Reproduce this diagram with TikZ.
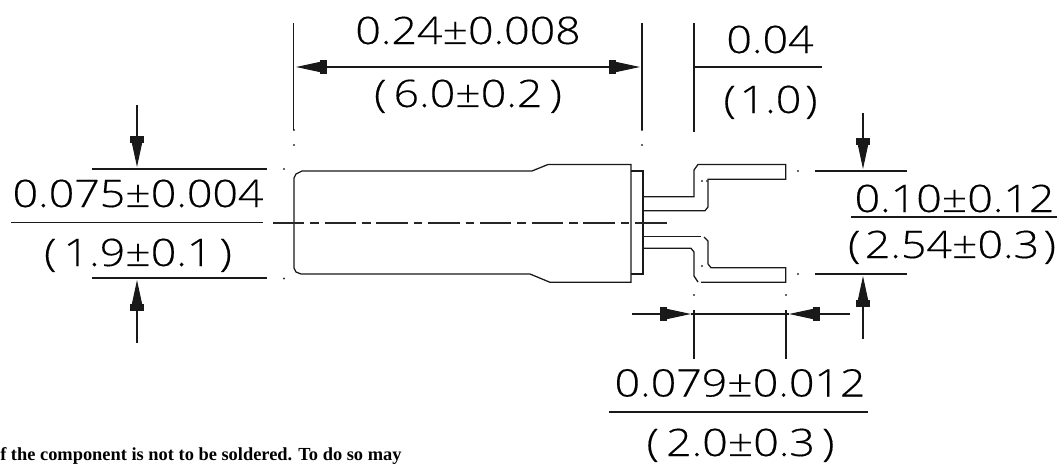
\documentclass[tikz,border=0pt]{standalone}
\usepackage{fontspec}
\setmainfont{Liberation Sans}
\newfontfamily\dimfont[FakeStretch=1.18,FakeBold=0.35]{Open Sans Light}
\newfontfamily\notefont{Liberation Serif}
\newcommand{\pk}{\kern5.5pt}
\usetikzlibrary{arrows.meta,calc}
\tikzset{
  x=0.75pt,y=-0.75pt,
  part/.style={line width=0.95pt,black!90},
  thin dim/.style={line width=0.8pt,black!90},
  dimend/.style={thin dim,-{Rectangle[length=5pt,width=10pt,sep=0pt]Triangle[length=18pt,width=7.5pt]}},
  dimstart/.style={thin dim,{Triangle[length=18pt,width=7.5pt]Rectangle[length=5pt,width=10pt,sep=0pt]}-},
  dimtext/.style={anchor=base,inner sep=0pt,font=\dimfont\fontsize{28.4pt}{28pt}\selectfont,text=black},
  centre/.style={line width=1.2pt,black!85,dash pattern=on 23.6pt off 4.4pt on 6.4pt off 4.4pt},
  speck/.style={circle,fill=black!80,inner sep=0pt,minimum size=1.6pt}
}
\begin{document}
\begin{tikzpicture}
\useasboundingbox (0,0) rectangle (1061,464);
\draw[part] (294,178) -- (296,174) -- (302,171) -- (532,171) -- (548,164.5) -- (631,164.5)
  -- (631,282.3) -- (550,282.3) -- (530,274) -- (301,274) -- (296,272) -- (294,268) -- cycle;
\draw[part] (631,171) -- (643,171) -- (643,274) -- (631,274);
\draw[part] (643,196.7) -- (694,196.7) -- (694,170) -- (698,164.5) -- (785.7,164.5) -- (785.7,179.3)
  -- (708,179.3) -- (708,207) -- (705,210.7) -- (643,210.7);
\draw[part] (643,236.7) -- (701,236.7);
\draw[part] (704,237) -- (708,241) -- (708,264) -- (711,267.7) -- (785.7,267.7) -- (785.7,282.3) -- (701,282.3);
\draw[part] (698,282) -- (694,276) -- (694,252) -- (691,248.3) -- (643,248.3);
\draw[centre] (273,222.7) -- (667,222.7);
\foreach \p/\q in {294/130,294/145,284/169,284/278.5,642/130,642/145,694/131,798/171,798/274,694/295,786/295,702/181,707/181,702/266}
  \node[speck] at (\p,\q) {};
\coordinate (tl1) at (293.5,23); \coordinate (tl2) at (293.5,130);
\coordinate (tr1) at (642,23); \coordinate (tr2) at (642,130);
\coordinate (tm1) at (694,23); \coordinate (tm2) at (694,132);
\coordinate (ta) at (296,67); \coordinate (tb) at (640,67); \coordinate (tc) at (694,67); \coordinate (td) at (822,67);
\draw[thin dim] (tl1) -- (tl2);
\draw[thin dim] (tr1) -- (tr2);
\draw[thin dim] (tm1) -- (tm2);
\draw[dimstart] (ta) -- ($(ta)!0.5!(tb)$);
\draw[dimend] ($(ta)!0.5!(tb)$) -- (tb);
\draw[thin dim] (tc) -- (td);
\node[dimtext] (t24) at (468,44) {0.24±0.008};
\node[dimtext] (t60) at (468,107) {(\pk 6.0±0.2\pk)};
\node[dimtext] (t04) at (770,53) {0.04};
\node[dimtext] (t10) at (770.5,113) {(\kern3pt 1.0\kern3pt)};
\coordinate (la) at (92,169); \coordinate (lb) at (267,169); \coordinate (lc) at (92,278); \coordinate (ld) at (267,278);
\coordinate (a1) at (137,105); \coordinate (a2) at (137,167); \coordinate (a3) at (137,280); \coordinate (a4) at (137,343);
\draw[thin dim] (la) -- (lb);
\draw[thin dim] (lc) -- (ld);
\draw[dimend] (a1) -- (a2);
\draw[dimstart] (a3) -- (a4);
\coordinate (lu1) at (11,222.7); \coordinate (lu2) at (263,222.7);
\draw[part] (lu1) -- (lu2);
\node[dimtext] (t075) at (138,207) {0.075±0.004};
\node[dimtext] (t19) at (138,266) {(\pk 1.9±0.1\pk)};
\coordinate (ra) at (815,171); \coordinate (rb) at (907,171); \coordinate (rc) at (815,274); \coordinate (rd) at (907,274);
\coordinate (r1) at (863,113); \coordinate (r2) at (863,169); \coordinate (r3) at (863,276); \coordinate (r4) at (863,339);
\draw[thin dim] (ra) -- (rb);
\draw[thin dim] (rc) -- (rd);
\draw[dimend] (r1) -- (r2);
\draw[dimstart] (r3) -- (r4);
\coordinate (ru1) at (851,217); \coordinate (ru2) at (1057,217);
\draw[part] (ru1) -- (ru2);
\node[dimtext] (t010) at (954.5,212) {0.10±0.12};
\node[dimtext] (t254) at (952,258) {(\kern3.5pt 2.54±0.3\kern3.5pt)};
\coordinate (b1) at (694,310); \coordinate (b2) at (694,359); \coordinate (b3) at (786,310); \coordinate (b4) at (786,359);
\coordinate (c1) at (632,314); \coordinate (c2) at (691,314); \coordinate (c3) at (789,314); \coordinate (c4) at (850,314);
\draw[thin dim] (b1) -- (b2);
\draw[thin dim] (b3) -- (b4);
\draw[dimend] (c1) -- (c2);
\draw[thin dim] (c2) -- (c3);
\draw[dimstart] (c3) -- (c4);
\coordinate (bu1) at (609,412); \coordinate (bu2) at (868,412);
\draw[part] (bu1) -- (bu2);
\node[dimtext] (t079) at (740,396.5) {0.079±0.012};
\node[dimtext] (t20) at (740.5,456) {(\pk 2.0±0.3\pk)};
\node[anchor=base west,inner sep=0pt,font=\notefont\bfseries\fontsize{13.8pt}{14pt}\selectfont] (note) at (0,460) {f the component is not to be soldered. To do so may};
\end{tikzpicture}
\end{document}
